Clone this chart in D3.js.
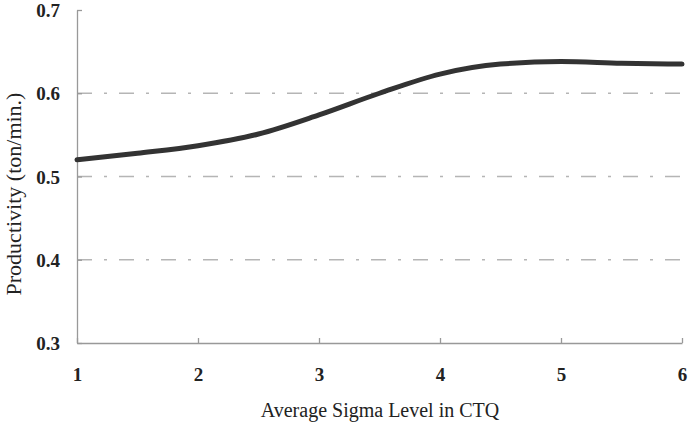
<!DOCTYPE html>
<html>
<head>
<meta charset="utf-8">
<script src="https://cdn.jsdelivr.net/npm/d3@7"></script>
<style>
  body { margin: 0; background: #fff; }
  text { font-family: "Liberation Serif", "DejaVu Serif", serif; fill: #222; }
</style>
</head>
<body>
<svg id="chart" width="688" height="428"></svg>
<script>
const width = 688;
const height = 428;
const margin = { top: 10, right: 6, bottom: 85, left: 77 };

// data
const sigmaLevels = [1, 1.5, 2, 2.5, 3, 3.5, 4, 4.5, 5, 5.5, 6];
const productivity = [0.520, 0.528, 0.537, 0.551, 0.574, 0.600, 0.623, 0.635, 0.638, 0.636, 0.635];
const xTicks = [1, 2, 3, 4, 5, 6];
const yTicks = [0.3, 0.4, 0.5, 0.6, 0.7];
const gridValues = [0.4, 0.5, 0.6];

const svg = d3.select("#chart");

const x = d3.scaleLinear().domain([1, 6]).range([margin.left, width - margin.right]);
const y = d3.scaleLinear().domain([0.3, 0.7]).range([height - margin.bottom, margin.top]);

// dash-dot grid lines
svg.selectAll("line.grid")
  .data(gridValues)
  .enter()
  .append("line")
  .attr("class", "grid")
  .attr("x1", x(1))
  .attr("x2", x(6))
  .attr("y1", d => y(d))
  .attr("y2", d => y(d))
  .attr("stroke", "#b5b5b5")
  .attr("stroke-width", 1.3)
  .attr("stroke-dasharray", "15,12,3,12");

// axes
const xAxis = svg.append("g")
  .attr("transform", `translate(0, ${y(0.3)})`)
  .call(d3.axisBottom(x).tickValues(xTicks).tickSizeInner(-5).tickSizeOuter(0).tickPadding(25).tickFormat(d3.format("d")));

const yAxis = svg.append("g")
  .attr("transform", `translate(${x(1)}, 0)`)
  .call(d3.axisLeft(y).tickValues(yTicks).tickSizeInner(-5).tickSizeOuter(0).tickPadding(17).tickFormat(d3.format(".1f")));

[xAxis, yAxis].forEach(g => {
  g.select(".domain").attr("stroke", "#999").attr("stroke-width", 1.3);
  g.selectAll(".tick line").attr("stroke", "#999").attr("stroke-width", 1.3);
  g.selectAll(".tick text")
    .attr("font-family", "Liberation Serif, serif")
    .attr("font-size", 19)
    .attr("font-weight", "bold")
    .attr("fill", "#222");
});
yAxis.selectAll(".tick text").attr("dy", "0.35em");

// the curve
const line = d3.line()
  .x((d, i) => x(sigmaLevels[i]))
  .y(d => y(d))
  .curve(d3.curveMonotoneX);

svg.append("path")
  .datum(productivity)
  .attr("fill", "none")
  .attr("stroke", "#333")
  .attr("stroke-width", 5)
  .attr("stroke-linecap", "round")
  .attr("d", line);

// axis titles
svg.append("text")
  .attr("x", 380)
  .attr("y", 417)
  .attr("text-anchor", "middle")
  .attr("font-size", 20)
  .text("Average Sigma Level in CTQ");

svg.append("text")
  .attr("transform", `translate(21, 194) rotate(-90)`)
  .attr("text-anchor", "middle")
  .attr("font-size", 22)
  .text("Productivity (ton/min.)");
</script>
</body>
</html>
